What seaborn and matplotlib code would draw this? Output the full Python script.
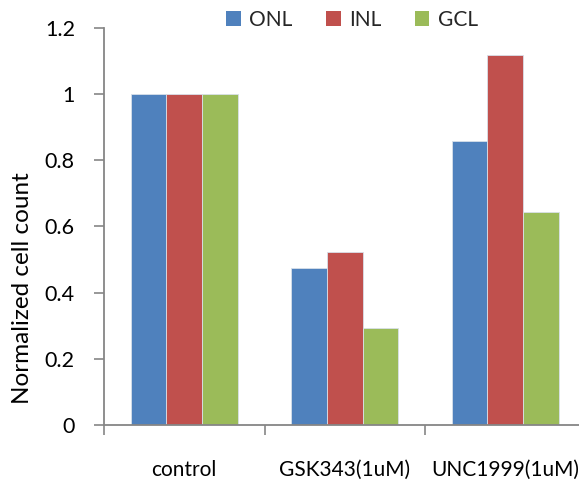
import matplotlib
matplotlib.use("Agg")
import matplotlib.pyplot as plt
from matplotlib.patches import Patch
import seaborn as sns
import pandas as pd

categories = ["control", "GSK343(1uM)", "UNC1999(1uM)"]
layers = ["ONL", "INL", "GCL"]
onl = [1.0, 0.475, 0.857]
inl = [1.0, 0.523, 1.117]
gcl = [1.0, 0.293, 0.644]
colors = ["#4F81BD", "#C0504D", "#9BBB59"]
yticks = [0, 0.2, 0.4, 0.6, 0.8, 1.0, 1.2]
ytick_labels = ["0", "0.2", "0.4", "0.6", "0.8", "1", "1.2"]

rows = []
for layer, vals in zip(layers, [onl, inl, gcl]):
    for c, v in zip(categories, vals):
        rows.append({"category": c, "layer": layer, "value": v})
df = pd.DataFrame(rows)

sns.set_theme(style="white")
plt.rcParams["font.family"] = ["Lato", "DejaVu Sans"]

fig = plt.figure(figsize=(5.79, 4.84), dpi=100)
ax = fig.add_axes([104/579, 59/484, 481.5/579, 397/484])

sns.barplot(data=df, x="category", y="value", hue="layer", order=categories,
            hue_order=layers, palette=colors, saturation=1, width=0.665, gap=0,
            edgecolor="#d8e0ea", linewidth=0.6, legend=False, ax=ax)

ax.set_xlim(-0.5, 2.5)
ax.set_ylim(0, 1.2)
ax.set_yticks(yticks)
ax.set_yticklabels(ytick_labels, fontsize=15.5, color="#000000")
ax.set_xticks(range(len(categories)))
ax.set_xticklabels(categories, fontsize=15, color="#000000")
ax.set_xticks([-0.5, 0.5, 1.5, 2.5], minor=True)
ax.tick_params(axis="x", which="major", length=0, pad=25)
ax.tick_params(axis="x", which="minor", length=7, width=1.2, color="#868686", direction="out", bottom=True)
ax.tick_params(axis="y", which="major", length=7, width=1.2, color="#868686", direction="out", left=True, pad=14)

for s in ["top", "right"]:
    ax.spines[s].set_visible(False)
for s in ["left", "bottom"]:
    ax.spines[s].set_color("#868686")
    ax.spines[s].set_linewidth(1.3)

ax.set_xlabel("")
ax.set_ylabel("Normalized cell count", fontsize=17.5, color="#000000")
ax.yaxis.set_label_coords(-0.147, 0.345)

handles = [Patch(facecolor=c, edgecolor="none", label=l) for c, l in zip(colors, layers)]
fig.legend(handles=handles, loc="center", bbox_to_anchor=(352/579, 1 - 20/484), ncol=3,
           frameon=False, fontsize=15, handlelength=0.7, handleheight=0.7,
           handletextpad=0.4, columnspacing=1.6)

fig.savefig("out.png", dpi=100)
